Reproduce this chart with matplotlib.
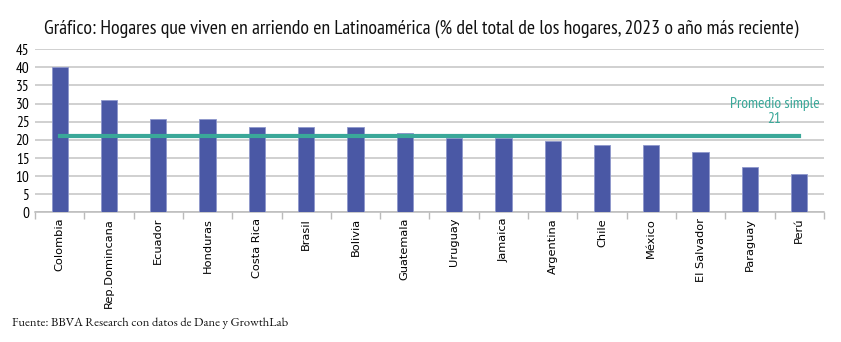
import matplotlib.pyplot as plt
import numpy as np
from matplotlib import font_manager

paises = ['Colombia', 'Rep.Domincana', 'Ecuador', 'Honduras', 'Costa Rica', 'Brasil',
          'Bolivia', 'Guatemala', 'Uruguay', 'Jamaica', 'Argentina', 'Chile',
          'México', 'El Salvador', 'Paraguay', 'Perú']
hogares = [40.1, 30.9, 25.7, 25.7, 23.5, 23.5, 23.5, 21.8, 20.6, 20.4, 19.8, 18.5,
           18.5, 16.6, 12.5, 10.5]
promedio = 21
yticks = [0, 5, 10, 15, 20, 25, 30, 35, 40, 45]

names = {f.name for f in font_manager.fontManager.ttflist}
def pick(prefs, default):
    for p in prefs:
        if p in names:
            return p
    return default

narrow = pick(['PT Sans Narrow', 'Roboto Condensed', 'Archivo Narrow', 'Open Sans Condensed',
               'Fira Sans Condensed', 'IBM Plex Sans Condensed', 'Encode Sans Condensed',
               'Asap Condensed', 'Ubuntu Condensed', 'Pragati Narrow', 'Liberation Sans Narrow'],
              'DejaVu Sans')
serif = pick(['EB Garamond', 'Cormorant Garamond', 'Liberation Serif'], 'DejaVu Serif')

azul = '#4a58a5'
verde = '#3aa899'

fig = plt.figure(figsize=(8.41, 3.42), dpi=100)
ax = fig.add_axes([0.0416, 0.379, 0.938, 0.477])

x = np.arange(len(paises))
ax.bar(x, hogares, width=0.33, color=azul, edgecolor='#8e97cc', linewidth=0.6, zorder=3)
ax.plot([x[0], x[-1]], [promedio, promedio], color=verde, linewidth=3, zorder=4)
ax.text(x[-1] - 0.5, promedio + 2.8, 'Promedio simple\n21', color=verde, ha='center',
        va='bottom', fontsize=11.2, family=narrow, linespacing=1.1, zorder=5)

ax.set_xlim(-0.5, len(paises) - 0.5)
ax.set_ylim(0, 45)
ax.set_yticks(yticks)
ax.set_yticklabels([str(v) for v in yticks], family=narrow, fontsize=11)
ax.yaxis.grid(True, color='#c4c4c4', linewidth=1.1, zorder=0)
ax.tick_params(axis='y', length=0, pad=4)

ax.set_xticks(x)
ax.set_xticklabels(paises, rotation=90, fontsize=8.2, family='DejaVu Sans', va='top')
ax.set_xticks(np.arange(len(paises) + 1) - 0.5, minor=True)
ax.tick_params(axis='x', which='major', length=0, pad=4)
ax.tick_params(axis='x', which='minor', length=5, color='#bbbbbb', width=1)

for s in ['top', 'right', 'left']:
    ax.spines[s].set_visible(False)
ax.spines['bottom'].set_color('#bbbbbb')
ax.spines['bottom'].set_linewidth(1.1)

titulo = fig.text(0.052, 0.915, 'Gráfico: Hogares que viven en arriendo en Latinoamérica (% del total de los hogares, 2023 o año más reciente)',
                  family=narrow, fontsize=13.5, color='#111111', va='center')
fuente = fig.text(0.014, 0.055, 'Fuente: BBVA Research con datos de Dane y GrowthLab',
                  family=serif, fontsize=7.8, color='#111111', va='center')

# ajustar anchos de texto a los de la referencia
fig.canvas.draw()
r = fig.canvas.get_renderer()
for t, ancho in [(titulo, 754), (fuente, 275)]:
    w = t.get_window_extent(r).width
    t.set_fontsize(t.get_fontsize() * ancho / w)

fig.savefig('out.png', dpi=100)
